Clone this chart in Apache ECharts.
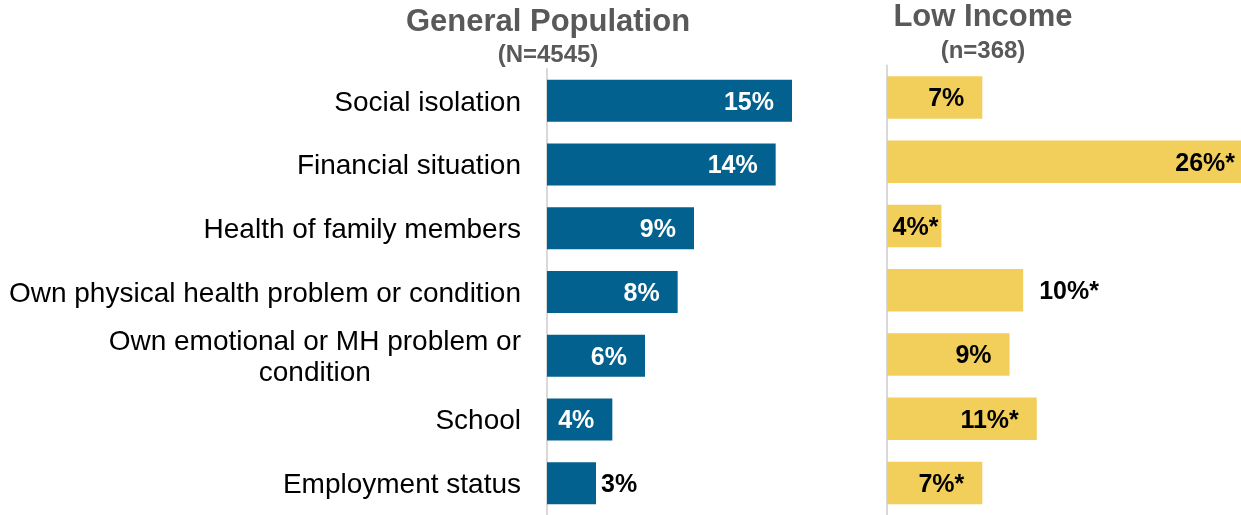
<!DOCTYPE html>
<html>
<head>
<meta charset="utf-8">
<script src="https://cdn.jsdelivr.net/npm/echarts@6/dist/echarts.min.js"></script>
<style>
  html, body { margin: 0; padding: 0; background: #fff; }
  #chart { width: 1241px; height: 515px; }
</style>
</head>
<body>
<div id="chart"></div>
<script>
// Reasons reported, by group (percent of respondents)
const categories = [
  'Social isolation',
  'Financial situation',
  'Health of family members',
  'Own physical health problem or condition',
  'Own emotional or MH problem or\ncondition',
  'School',
  'Employment status'
];
const generalValues = [15, 14, 9, 8, 6, 4, 3];
const lowIncomeValues = [7, 26, 4, 10, 9, 11, 7];
// * marks a significant difference from the general population
const lowIncomeSignificant = [false, true, true, true, false, true, true];
const panelTitles = ['General Population', 'Low Income'];
const panelSizes = ['(N=4545)', '(n=368)'];

const FONT = '"Liberation Sans", Arial, Helvetica, sans-serif';
const BLUE = '#02618E';
const GOLD = '#F2CF5B';
const TITLE_GREY = '#595959';
const AXIS_GREY = '#D9D9D9';

// Per-bar label placement tweaks (index -> label options)
const generalLabelTweaks = { 6: { position: 'right', distance: 5, color: '#000' } };
const lowIncomeLabelTweaks = {
  1: { distance: 6 },
  2: { distance: 3 },
  3: { position: 'right', distance: 16 }
};

function toBarData(values, tweaks) {
  return values.map((v, i) => (tweaks[i] ? { value: v, label: tweaks[i] } : v));
}

const chart = echarts.init(document.getElementById('chart'), null, { renderer: 'canvas' });

const baseLabel = {
  show: true,
  position: 'insideRight',
  distance: 18,
  fontFamily: FONT,
  fontSize: 25,
  fontWeight: 'bold',
  offset: [0, 2]
};

const titleStyle = (isMain) => isMain
  ? { fontFamily: FONT, fontSize: 31, fontWeight: 'bold', color: TITLE_GREY, lineHeight: 31 }
  : { fontFamily: FONT, fontSize: 24, fontWeight: 'bold', color: TITLE_GREY, lineHeight: 24 };

const option = {
  animation: false,
  backgroundColor: '#fff',
  title: [
    {
      text: panelTitles[0], subtext: panelSizes[0],
      left: 548, top: 7, padding: 0, itemGap: 5, textAlign: 'center',
      textStyle: titleStyle(true), subtextStyle: titleStyle(false)
    },
    {
      text: panelTitles[1], subtext: panelSizes[1],
      left: 983, top: 2, padding: 0, itemGap: 6, textAlign: 'center',
      textStyle: titleStyle(true), subtextStyle: titleStyle(false)
    }
  ],
  grid: [
    { left: 547, width: 245, top: 69, height: 446 },
    { left: 887, width: 354, top: 65.5, height: 455 }
  ],
  xAxis: [
    { gridIndex: 0, type: 'value', min: 0, max: 15, show: false },
    { gridIndex: 1, type: 'value', min: 0, max: 26, show: false }
  ],
  yAxis: [
    {
      gridIndex: 0, type: 'category', data: categories, inverse: true,
      axisLine: { show: true, lineStyle: { color: AXIS_GREY, width: 2 } },
      axisTick: { show: false },
      splitLine: { show: false },
      axisLabel: {
        margin: 26,
        fontFamily: FONT,
        fontSize: 28,
        color: '#000',
        lineHeight: 31,
        padding: [4, 0, 0, 0],
        formatter: (val) => val.indexOf('\n') >= 0
          ? val.split('\n').map((s) => '{c|' + s + '}').join('\n')
          : val,
        rich: {
          c: { align: 'center', fontFamily: FONT, fontSize: 28, color: '#000', lineHeight: 31 }
        }
      }
    },
    {
      gridIndex: 1, type: 'category', data: categories, inverse: true,
      axisLine: { show: true, lineStyle: { color: AXIS_GREY, width: 2 } },
      axisTick: { show: false },
      splitLine: { show: false },
      axisLabel: { show: false }
    }
  ],
  series: [
    {
      name: panelTitles[0],
      type: 'bar',
      xAxisIndex: 0, yAxisIndex: 0,
      barWidth: 42,
      itemStyle: { color: BLUE },
      label: Object.assign({}, baseLabel, { color: '#fff', formatter: (p) => p.value + '%' }),
      data: toBarData(generalValues, generalLabelTweaks)
    },
    {
      name: panelTitles[1],
      type: 'bar',
      xAxisIndex: 1, yAxisIndex: 1,
      barWidth: 42.5,
      itemStyle: { color: GOLD },
      label: Object.assign({}, baseLabel, {
        color: '#000',
        formatter: (p) => p.value + '%' + (lowIncomeSignificant[p.dataIndex] ? '*' : '')
      }),
      data: toBarData(lowIncomeValues, lowIncomeLabelTweaks)
    }
  ]
};

chart.setOption(option);
</script>
</body>
</html>
